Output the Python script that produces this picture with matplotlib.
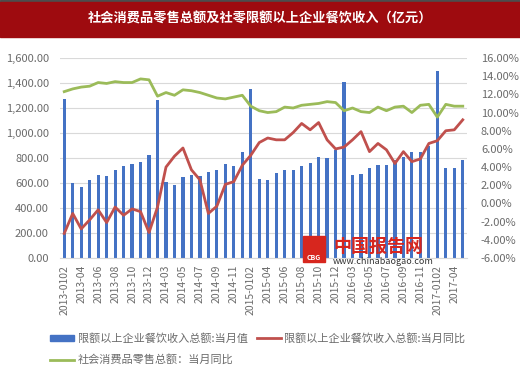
import numpy as np
import matplotlib
matplotlib.use("Agg")
import matplotlib.pyplot as plt
from matplotlib.patches import Rectangle
from matplotlib.lines import Line2D
from matplotlib.ticker import FuncFormatter

plt.rcParams['font.family'] = ['Noto Sans CJK SC', 'DejaVu Sans']

# ----------------------------------------------------------------------
# data
years = ["2013", "2014", "2015", "2016"]
months = ["0102", "03", "04", "05", "06", "07", "08", "09", "10", "11", "12"]
dates = [y + "-" + m for y in years for m in months]
dates += ["2017-0102", "2017-03", "2017-04", "2017-05"]

# 限额以上企业餐饮收入总额:当月值 (亿元)
revenue = [1275, 602, 572, 624, 664, 660, 701, 733, 753, 768, 822,
           1266, 608, 585, 646, 665, 657, 685, 707, 755, 737, 846,
           1350, 632, 624, 683, 701, 707, 738, 757, 807, 797, 864,
           1405, 661, 675, 723, 741, 744, 781, 805, 851, 848, 899,
           1499, 723, 723, 781]

# 限额以上企业餐饮收入总额:当月同比 (%)
revenue_yoy = [-3.3, -1.1, -2.8, -1.8, -0.7, -2.1, -0.4, -1.3, -0.6, -0.9, -3.2,
               -0.4, 4.0, 5.2, 6.1, 3.7, 2.6, -1.1, -0.3, 2.1, 2.4, 4.2,
               5.3, 6.7, 7.2, 7.0, 7.0, 7.8, 8.8, 8.1, 8.9, 7.0, 6.0,
               6.2, 7.0, 7.9, 5.7, 6.6, 5.9, 4.4, 5.7, 4.6, 4.9, 6.6,
               6.9, 8.0, 8.1, 9.2]

# 社会消费品零售总额：当月同比 (%)
retail_yoy = [12.3, 12.6, 12.8, 12.9, 13.3, 13.2, 13.4, 13.3, 13.3, 13.7, 13.6,
              11.8, 12.2, 11.9, 12.5, 12.4, 12.2, 11.9, 11.6, 11.5, 11.7, 11.9,
              10.7, 10.2, 10.0, 10.1, 10.6, 10.5, 10.8, 10.9, 11.0, 11.2, 11.1,
              10.2, 10.5, 10.1, 10.0, 10.6, 10.2, 10.6, 10.7, 10.0, 10.8, 10.9,
              9.5, 10.9, 10.7, 10.7]

title = "社会消费品零售总额及社零限额以上企业餐饮收入（亿元）"
labels = ["限额以上企业餐饮收入总额:当月值",
          "限额以上企业餐饮收入总额:当月同比",
          "社会消费品零售总额：当月同比"]

# ----------------------------------------------------------------------
c_bar = "#4472c4"
c_red = "#c0504d"
c_green = "#9bbb59"
c_text = "#6b6b6b"

W, H = 520, 380
fig = plt.figure(figsize=(W / 100, H / 100), dpi=100)

# title bar
fig.patches.append(Rectangle((0, 1 - 2 / H), 1, 2 / H, transform=fig.transFigure,
                             color="#4d4d4d", zorder=0))
fig.patches.append(Rectangle((0, 1 - 37 / H), 1, 35 / H, transform=fig.transFigure,
                             color="#9e0b0f", zorder=0))
fig.text(0.5, 1 - 19 / H, title, color="white", fontsize=9.5, fontweight="bold",
         ha="center", va="center")

x = np.arange(len(dates))
ax = fig.add_axes([60 / W, 1 - 258 / H, 407 / W, 200 / H])
ax.bar(x, revenue, width=0.38, color=c_bar, zorder=2)
ax.set_xlim(-0.5, len(dates) - 0.5)
ax.set_ylim(0, 1600)
ax.set_yticks(np.arange(0, 1601, 200))
ax.yaxis.set_major_formatter(FuncFormatter(lambda v, p: "{:,.2f}".format(v)))
ax.grid(axis="y", color="#d9d9d9", linewidth=0.8, zorder=0)
ax.set_axisbelow(True)
ax.set_xticks(x[::2])
ax.set_xticklabels(dates[::2], rotation=90, fontsize=7.5, color=c_text)
ax.tick_params(axis="y", labelsize=8, labelcolor=c_text, length=0, pad=8)
ax.tick_params(axis="x", length=0, pad=5)
for s in ["top", "left", "right"]:
    ax.spines[s].set_visible(False)
ax.spines["bottom"].set_color("#d9d9d9")

ax2 = ax.twinx()
ax2.plot(x, revenue_yoy, color=c_red, linewidth=2, solid_joinstyle="round")
ax2.plot(x, retail_yoy, color=c_green, linewidth=2, solid_joinstyle="round")
ax2.set_ylim(-6, 16)
ax2.set_yticks(np.arange(-6, 17, 2))
ax2.yaxis.set_major_formatter(FuncFormatter(lambda v, p: "{:.2f}%".format(v)))
ax2.tick_params(axis="y", labelsize=8, labelcolor=c_text, length=0, pad=10)
for s in ax2.spines.values():
    s.set_visible(False)

# watermark
fig.patches.append(Rectangle((303 / W, 1 - 262 / H), 22 / W, 26 / H,
                             transform=fig.transFigure, color="#d7261e", zorder=5))
fig.text(314 / W, 1 - 258 / H, "CBG", color="white", fontsize=5, fontweight="bold",
         ha="center", va="center", zorder=6)
fig.text(333 / W, 1 - 246 / H, "中国报告网", color="#d7261e", fontsize=13,
         fontweight="bold", ha="left", va="center", zorder=6)
fig.text(333 / W, 1 - 262 / H, "www.chinabaogao.com", color="#333333", fontsize=6.5,
         ha="left", va="center", zorder=6)

# legend
handles = [Rectangle((0, 0), 1, 1, color=c_bar),
           Line2D([], [], color=c_green, linewidth=2),
           Line2D([], [], color=c_red, linewidth=2)]
fig.legend(handles, [labels[0], labels[2], labels[1]], ncol=2,
           loc="upper left", bbox_to_anchor=(50 / W, 1 - 333 / H),
           frameon=False, fontsize=8, labelcolor=c_text,
           handlelength=2.2, handleheight=0.5, handletextpad=0.3,
           columnspacing=0.8, labelspacing=0.95, borderaxespad=0, borderpad=0)

fig.savefig("out.png", dpi=100)
